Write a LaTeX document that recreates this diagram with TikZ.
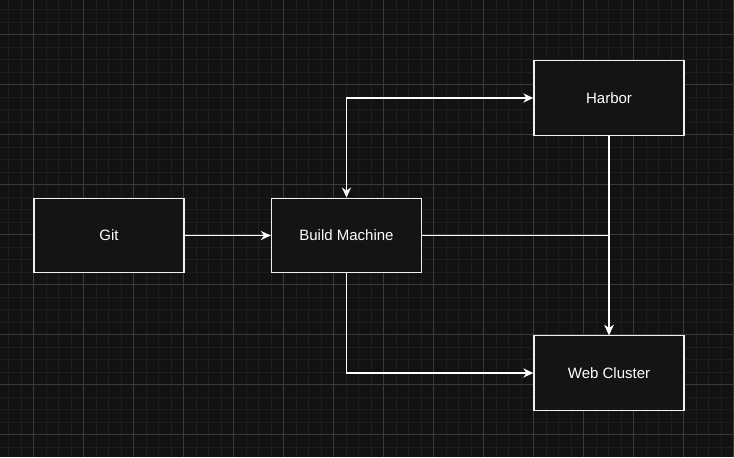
\documentclass[tikz,border=0pt]{standalone}
\usepackage{fontspec}
\setmainfont{Liberation Sans}
\usetikzlibrary{arrows.meta}
\definecolor{bgc}{HTML}{121212}
\definecolor{minorc}{HTML}{1E1E1E}
\definecolor{majorc}{HTML}{3A3A3A}
\definecolor{boxfill}{HTML}{141414}
\definecolor{boxline}{HTML}{F0F0F0}
\tikzset{
  minorline/.style={draw=minorc, line width=0.75pt},
  majorline/.style={draw=majorc, line width=0.75pt},
  boxnode/.style={draw=boxline, fill=boxfill, line width=1pt, minimum width=112.5pt, minimum height=55.9pt, inner sep=0pt, text=white, font=\fontsize{11.25pt}{13pt}\selectfont},
  edge/.style={draw=white, line width=1pt, -{Stealth[length=7.5pt, width=6.8pt, inset=2.3pt]}},
}
\begin{document}
\begin{tikzpicture}[x=0.75pt,y=-0.75pt]
\fill[bgc] (0,0) rectangle (734,457);
\useasboundingbox (0,0) rectangle (734,457);
\foreach \i in {0,...,59} {\draw[minorline] (8.5+12.5*\i,0) -- ++(0,457);}
\foreach \i in {0,...,36} {\draw[minorline] (0,9.5+12.5*\i) -- ++(734,0);}
\foreach \i in {0,...,14} {\draw[majorline] (33.5+50*\i,0) -- ++(0,457);}
\foreach \i in {0,...,8} {\draw[majorline] (0,34.5+50*\i) -- ++(734,0);}
\node[boxnode] (git) at (109,235.5) {Git};
\node[boxnode] (build) at (346.5,235.5) {Build Machine};
\node[boxnode] (harbor) at (609,98) {Harbor};
\node[boxnode] (web) at (609,373) {Web Cluster};
\draw[edge] (git) -- (build);
\draw[edge, {Stealth[length=7.5pt, width=6.8pt, inset=2.3pt]}-{Stealth[length=7.5pt, width=6.8pt, inset=2.3pt]}] (build.north) |- (harbor.west);
\draw[edge] (build.east) -| (web.north);
\draw[edge] (harbor.south) -- (web.north);
\draw[edge] (build.south) |- (web.west);
\end{tikzpicture}
\end{document}
